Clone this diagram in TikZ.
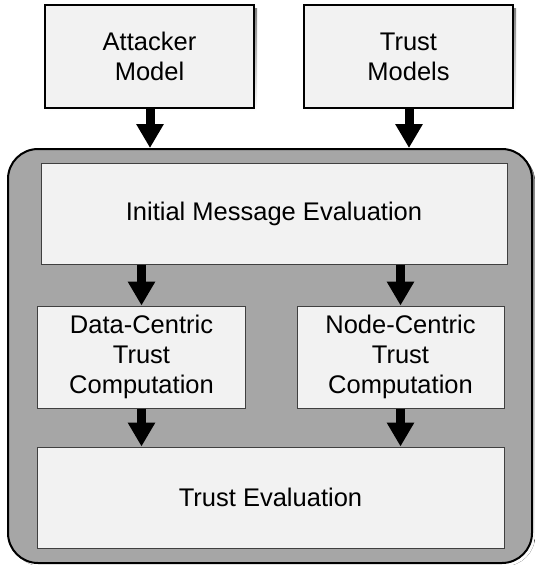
\documentclass[tikz,border=0pt]{standalone}
\usepackage{fontspec}
\setmainfont{Liberation Sans}
\usetikzlibrary{arrows.meta}
\definecolor{boxfill}{HTML}{F2F2F2}
\definecolor{framefill}{HTML}{A6A6A6}
\definecolor{shade}{HTML}{DCE6F0}
\begin{document}
\begin{tikzpicture}[x=1pt,y=-1pt,
  lbl/.style={font=\fontsize{25.5}{30}\selectfont, align=center, inner sep=0pt},
  topbox/.style={lbl, draw=black, line width=2pt, fill=boxfill},
  stage/.style={lbl, draw=black!75, line width=1pt, fill=boxfill},
  frame/.style={draw=black, line width=2pt, fill=framefill, rounded corners=30pt, inner sep=0pt},
  flow/.style={line width=9pt, -{Triangle[width=26pt,length=24pt]}}]
\useasboundingbox (0,0) rectangle (535,565);

% soft shadows under the outer boxes
\fill[shade, rounded corners=30pt] (11,152) rectangle (535,566);
\fill[shade] (48,8) rectangle (257,111);
\fill[shade] (307,8) rectangle (516,111);

% input models
\node[topbox, minimum width=209pt, minimum height=103pt] (attacker) at (149.5,56.5) {Attacker\\Model};
\node[topbox, minimum width=209pt, minimum height=103pt] (models) at (408.5,56.5) {Trust\\Models};

% container of the evaluation pipeline
\node[frame, minimum width=524pt, minimum height=414pt] (frame) at (270,356) {};

% pipeline stages
\node[stage, minimum width=466pt, minimum height=101pt] (initial) at (274,213.5) {Initial Message Evaluation};
\node[stage, minimum width=208pt, minimum height=102pt] (data) at (141.5,357) {Data-Centric\\Trust\\Computation};
\node[stage, minimum width=207pt, minimum height=102pt] (node) at (400.5,357) {Node-Centric\\Trust\\Computation};
\node[stage, minimum width=467pt, minimum height=101pt] (eval) at (270.5,497.5) {Trust Evaluation};

% connectors
\draw[flow] ([xshift=0.5pt]attacker.south) -- ([xshift=0.5pt]attacker.south |- frame.north);
\draw[flow] ([xshift=0.5pt]models.south) -- ([xshift=0.5pt]models.south |- frame.north);
\draw[flow] (data.north |- initial.south) -- (data.north);
\draw[flow] (node.north |- initial.south) -- (node.north);
\draw[flow] (data.south) -- (data.south |- eval.north);
\draw[flow] (node.south) -- (node.south |- eval.north);
\end{tikzpicture}
\end{document}
